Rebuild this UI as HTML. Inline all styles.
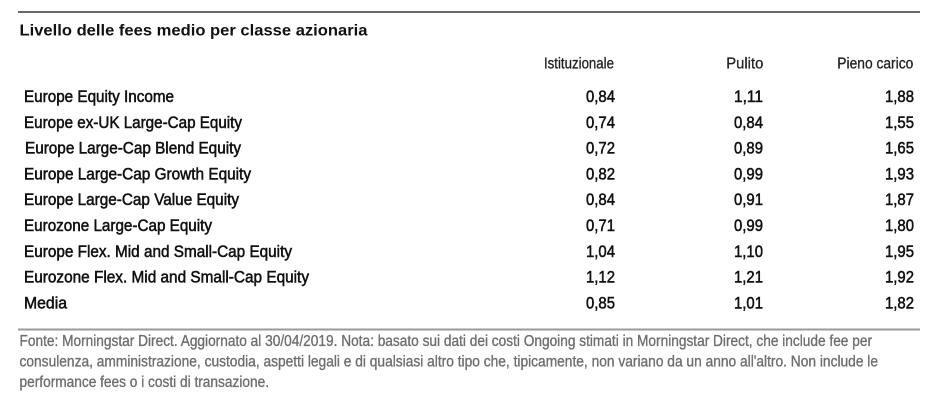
<!DOCTYPE html>
<html>
<head>
<meta charset="utf-8">
<style>
  html,body{margin:0;padding:0;background:#fff;}
  svg{display:block;}
  .t{font-family:"Liberation Sans Narrow","Liberation Sans",sans-serif;}
  .title{font-family:"Liberation Sans",sans-serif;font-weight:bold;font-size:16px;fill:#111;}
  .hd{font-size:15.5px;fill:#222;stroke:#222;stroke-width:0.3px;}
  .lb{font-size:17px;fill:#111;stroke:#111;stroke-width:0.55px;}
  .fn{font-size:15.5px;fill:#6e6e6e;stroke:#6e6e6e;stroke-width:0.35px;}
</style>
</head>
<body>
<svg width="948" height="412" viewBox="0 0 948 412" xmlns="http://www.w3.org/2000/svg">
  <rect x="0" y="0" width="948" height="412" fill="#fff"/>
  <rect x="18" y="11" width="902" height="2" fill="#6a6a6a"/>
  <text class="title" x="19.5" y="35.5" textLength="348" lengthAdjust="spacingAndGlyphs">Livello delle fees medio per classe azionaria</text>

  <g class="t hd">
    <text x="544" y="68.3" textLength="70" lengthAdjust="spacingAndGlyphs">Istituzionale</text>
    <text x="726.3" y="68.3" textLength="37" lengthAdjust="spacingAndGlyphs">Pulito</text>
    <text x="837.3" y="68.3" textLength="76" lengthAdjust="spacingAndGlyphs">Pieno carico</text>
  </g>

  <g class="t lb">
    <text x="24" y="102" textLength="150" lengthAdjust="spacingAndGlyphs">Europe Equity Income</text>
    <text x="24" y="127.8" textLength="218" lengthAdjust="spacingAndGlyphs">Europe ex-UK Large-Cap Equity</text>
    <text x="25" y="153.6" textLength="216" lengthAdjust="spacingAndGlyphs">Europe Large-Cap Blend Equity</text>
    <text x="24" y="179.4" textLength="227" lengthAdjust="spacingAndGlyphs">Europe Large-Cap Growth Equity</text>
    <text x="24" y="205.2" textLength="215" lengthAdjust="spacingAndGlyphs">Europe Large-Cap Value Equity</text>
    <text x="24" y="231" textLength="188" lengthAdjust="spacingAndGlyphs">Eurozone Large-Cap Equity</text>
    <text x="24" y="256.8" textLength="268" lengthAdjust="spacingAndGlyphs">Europe Flex. Mid and Small-Cap Equity</text>
    <text x="24" y="282.6" textLength="285" lengthAdjust="spacingAndGlyphs">Eurozone Flex. Mid and Small-Cap Equity</text>
    <text x="24" y="308.4" textLength="43" lengthAdjust="spacingAndGlyphs">Media</text>
  </g>

  <g class="t lb" text-anchor="end">
    <text x="615" y="102" textLength="29" lengthAdjust="spacingAndGlyphs">0,84</text>
    <text x="763" y="102" textLength="29" lengthAdjust="spacingAndGlyphs">1,11</text>
    <text x="914" y="102" textLength="29" lengthAdjust="spacingAndGlyphs">1,88</text>

    <text x="615" y="127.8" textLength="29" lengthAdjust="spacingAndGlyphs">0,74</text>
    <text x="763" y="127.8" textLength="29" lengthAdjust="spacingAndGlyphs">0,84</text>
    <text x="914" y="127.8" textLength="29" lengthAdjust="spacingAndGlyphs">1,55</text>

    <text x="615" y="153.6" textLength="29" lengthAdjust="spacingAndGlyphs">0,72</text>
    <text x="763" y="153.6" textLength="29" lengthAdjust="spacingAndGlyphs">0,89</text>
    <text x="914" y="153.6" textLength="29" lengthAdjust="spacingAndGlyphs">1,65</text>

    <text x="615" y="179.4" textLength="29" lengthAdjust="spacingAndGlyphs">0,82</text>
    <text x="763" y="179.4" textLength="29" lengthAdjust="spacingAndGlyphs">0,99</text>
    <text x="914" y="179.4" textLength="29" lengthAdjust="spacingAndGlyphs">1,93</text>

    <text x="615" y="205.2" textLength="29" lengthAdjust="spacingAndGlyphs">0,84</text>
    <text x="763" y="205.2" textLength="29" lengthAdjust="spacingAndGlyphs">0,91</text>
    <text x="914" y="205.2" textLength="29" lengthAdjust="spacingAndGlyphs">1,87</text>

    <text x="615" y="231" textLength="29" lengthAdjust="spacingAndGlyphs">0,71</text>
    <text x="763" y="231" textLength="29" lengthAdjust="spacingAndGlyphs">0,99</text>
    <text x="914" y="231" textLength="29" lengthAdjust="spacingAndGlyphs">1,80</text>

    <text x="615" y="256.8" textLength="29" lengthAdjust="spacingAndGlyphs">1,04</text>
    <text x="763" y="256.8" textLength="29" lengthAdjust="spacingAndGlyphs">1,10</text>
    <text x="914" y="256.8" textLength="29" lengthAdjust="spacingAndGlyphs">1,95</text>

    <text x="615" y="282.6" textLength="29" lengthAdjust="spacingAndGlyphs">1,12</text>
    <text x="763" y="282.6" textLength="29" lengthAdjust="spacingAndGlyphs">1,21</text>
    <text x="914" y="282.6" textLength="29" lengthAdjust="spacingAndGlyphs">1,92</text>

    <text x="615" y="308.4" textLength="29" lengthAdjust="spacingAndGlyphs">0,85</text>
    <text x="763" y="308.4" textLength="29" lengthAdjust="spacingAndGlyphs">1,01</text>
    <text x="914" y="308.4" textLength="29" lengthAdjust="spacingAndGlyphs">1,82</text>
  </g>

  <rect x="18" y="328.5" width="902" height="2" fill="#9a9a9a"/>

  <g class="t fn">
    <text x="19.5" y="346" textLength="852.5" lengthAdjust="spacingAndGlyphs">Fonte: Morningstar Direct. Aggiornato al 30/04/2019. Nota: basato sui dati dei costi Ongoing stimati in Morningstar Direct, che include fee per</text>
    <text x="19.5" y="366.5" textLength="858.5" lengthAdjust="spacingAndGlyphs">consulenza, amministrazione, custodia, aspetti legali e di qualsiasi altro tipo che, tipicamente, non variano da un anno all'altro. Non include le</text>
    <text x="19.5" y="387" textLength="249.5" lengthAdjust="spacingAndGlyphs">performance fees o i costi di transazione.</text>
  </g>
</svg>
</body>
</html>
